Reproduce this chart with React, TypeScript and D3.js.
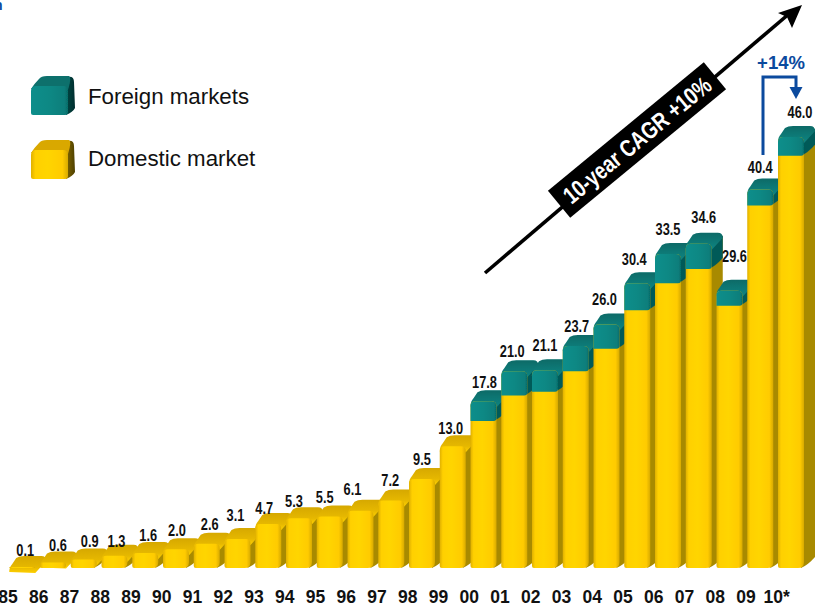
import React from "react";
import * as d3 from "d3";

const years = ["85","86","87","88","89","90","91","92","93","94","95","96","97","98","99","00","01","02","03","04","05","06","07","08","09","10*"];
const totals = [0.1,0.6,0.9,1.3,1.6,2.0,2.6,3.1,4.7,5.3,5.5,6.1,7.2,9.5,13.0,17.8,21.0,21.1,23.7,26.0,30.4,33.5,34.6,29.6,40.4,46.0];
const foreign = [0,0,0,0,0,0,0,0,0,0,0,0,0,0,0,2.1,2.6,2.3,2.7,2.6,2.9,3.1,2.7,1.6,1.7,2.0];
const labelNudgeX = [3,5,6,2,3,1,3,-2,-4,-5,-5,-8,-1,0,-2,1,-2,0,1,-2,-3,0,5,5,0,9];
const labelNudgeY = [-17,-17,-19,-15,-18,-19,-20,-24,-16,-17,-19,-22,-21,-20,-18,-19,-20,-25,-20,-25,-24,-25,-27,-35,-22,-25];

const W = 815, H = 608;
const x = d3.scaleLinear().domain([0, 25]).range([9.25, 778]);
const y = d3.scaleLinear().domain([0, 46]).range([568, 137]);
const barW = 26, dx = 11, dy = 11;
const BLUE = "#0b4a9e";

function frontPath(l: number, r: number, t: number, b: number, rt: number, rbl: number, rbr: number) {
  const h = b - t;
  const a = Math.min(rt, h / 2), c = Math.min(rbl, h / 2), e = Math.min(rbr, h / 2);
  const p = d3.path();
  p.moveTo(l, t + a);
  p.quadraticCurveTo(l, t, l + a, t);
  p.lineTo(r - a, t);
  p.quadraticCurveTo(r, t, r, t + a);
  p.lineTo(r, b - e);
  p.quadraticCurveTo(r, b, r - e, b);
  p.lineTo(l + c, b);
  p.quadraticCurveTo(l, b, l, b - c);
  p.closePath();
  return p.toString();
}
function topPath(l: number, r: number, t: number) {
  const p = d3.path();
  p.moveTo(l, t + 5);
  p.quadraticCurveTo(l, t, l + 3, t - 3);
  p.lineTo(l + dx - 4, t - dy + 2);
  p.quadraticCurveTo(l + dx - 1, t - dy, l + dx + 4, t - dy);
  p.lineTo(r + dx - 5, t - dy);
  p.quadraticCurveTo(r + dx, t - dy, r + dx, t - dy + 5);
  p.lineTo(r, t + 6);
  p.closePath();
  return p.toString();
}
function sidePath(r: number, t: number, b: number) {
  const p = d3.path();
  p.moveTo(r - 2, t + 1);
  p.lineTo(r + dx, t - dy + 3);
  p.lineTo(r + dx, b - dy);
  p.quadraticCurveTo(r + 4, b - 3, r - 3, b);
  p.closePath();
  return p.toString();
}

const Cube = ({ cy, tone }: { cy: number; tone: "t" | "y" }) => {
  const l = 31, r = 68, t = cy - 10, b = cy + 19;
  const sideC = tone === "t" ? "url(#legSideT)" : "url(#legSideY)";
  const topC = tone === "t" ? "#0a6f6c" : "#d9a800";
  return (
    <g>
      <path d={`M${r - 4},${t} L${r},${t - 9} Q${r + 6},${t - 10} ${r + 6},${t - 4} L${r + 7},${b - 7} Q${r + 5},${b - 3} ${r - 2},${b} Z`} fill={sideC} />
      <path d={`M${l},${t + 3} Q${l + 3},${t - 2} ${l + 8},${t - 7} Q${l + 10},${t - 10} ${l + 16},${t - 10} L${r + 1},${t - 10} Q${r + 4},${t - 9} ${r},${t + 4} Z`} fill={topC} />
      <path d={frontPath(l, r, t, b, 5, 2, 3)} fill={tone === "t" ? "url(#frontT)" : "url(#frontY)"} />
    </g>
  );
};

export default function App() {
  return (
    <svg width={W} height={H} viewBox={`0 0 ${W} ${H}`} style={{ position: "absolute", left: 0, top: 0, background: "#fff", fontFamily: "'Liberation Sans', Arial, sans-serif" }}>
      <defs>
        <linearGradient id="frontY" x1="0" x2="1" y1="0" y2="0">
          <stop offset="0" stopColor="#e0b000" />
          <stop offset="0.12" stopColor="#ffd000" />
          <stop offset="0.45" stopColor="#ffd500" />
          <stop offset="0.85" stopColor="#ffcb00" />
          <stop offset="1" stopColor="#d8aa00" />
        </linearGradient>
        <linearGradient id="frontT" x1="0" x2="1" y1="0" y2="0">
          <stop offset="0" stopColor="#0a8e8b" />
          <stop offset="0.5" stopColor="#0a8884" />
          <stop offset="0.9" stopColor="#087e7b" />
          <stop offset="1" stopColor="#066c69" />
        </linearGradient>
        <linearGradient id="topY" x1="0" x2="0" y1="0" y2="1">
          <stop offset="0" stopColor="#d6a800" />
          <stop offset="0.65" stopColor="#e6b800" />
          <stop offset="1" stopColor="#ffd000" />
        </linearGradient>
        <linearGradient id="topT" x1="0" x2="0" y1="0" y2="1">
          <stop offset="0" stopColor="#086a67" />
          <stop offset="1" stopColor="#0a8582" />
        </linearGradient>
        <linearGradient id="legSideT" x1="0" x2="1" y1="0" y2="0">
          <stop offset="0" stopColor="#064a48" />
          <stop offset="1" stopColor="#032f2e" />
        </linearGradient>
        <linearGradient id="legSideY" x1="0" x2="1" y1="0" y2="0">
          <stop offset="0" stopColor="#8a6f00" />
          <stop offset="1" stopColor="#4f4000" />
        </linearGradient>
        <filter id="soft" x="-5%" y="-5%" width="110%" height="110%">
          <feGaussianBlur stdDeviation="0.45" />
        </filter>
      </defs>

      <text x={-6} y={10} fill={BLUE} fontSize={14} fontWeight="bold">n</text>

      <g filter="url(#soft)">
        <Cube cy={96} tone="t" />
        <Cube cy={160} tone="y" />
      </g>
      <text x={88} y={104} fontSize={22.3} fill="#111">Foreign markets</text>
      <text x={88} y={166} fontSize={22.3} fill="#111">Domestic market</text>

      <g filter="url(#soft)">
        {totals.map((v, i) => {
          const l = x(i), r = l + barW, base = y(0), t = y(v);
          const f = foreign[i];
          const mid = y(v - f);
          return (
            <g key={years[i]}>
              <path d={sidePath(r, t, base)} fill="#a88a00" />
              {f > 0 && <path d={`M${r - 2},${t + 1} L${r + dx},${t - dy + 3} L${r + dx},${mid - dy} Q${r + 4},${mid - 3} ${r - 3},${mid} Z`} fill="#065a58" />}
              <path d={topPath(l, r, t)} fill={f > 0 ? "url(#topT)" : "url(#topY)"} />
              <path d={frontPath(l, r, t, base, 5, 2, 6)} fill="url(#frontY)" />
              {f > 0 && <path d={frontPath(l, r, t, mid, 5, 0, 3)} fill="url(#frontT)" />}
            </g>
          );
        })}
      </g>

      {totals.map((v, i) => (
        <text
          key={years[i]}
          transform={`translate(${x(i) + 13 + labelNudgeX[i]},${y(v) + labelNudgeY[i] + 6}) scale(0.8,1)`}
          textAnchor="middle"
          fontSize={16}
          fontWeight="bold"
          fill="#111"
        >
          {d3.format(".1f")(v)}
        </text>
      ))}

      {years.map((yr, i) => (
        <text key={yr} x={x(i) - 1.25} y={603} textAnchor="middle" fontSize={17.5} fontWeight="bold" fill="#111">
          {yr}
        </text>
      ))}

      <line x1={485} y1={273} x2={790} y2={13} stroke="#000" strokeWidth={3.6} />
      <path d="M802,5 L778,13 L787,17 L792,28 Z" fill="#000" />
      <g transform="translate(637,140) rotate(-39.5)">
        <rect x={-101} y={-17.5} width={202} height={35} fill="#000" />
        <text x={0} y={8.5} textAnchor="middle" fontSize={24} fontWeight="bold" fill="#fff" transform="scale(0.8,1)">10-year CAGR +10%</text>
      </g>

      <text x={781} y={69} textAnchor="middle" fontSize={18.5} fontWeight="bold" fill={BLUE}>+14%</text>
      <path d="M763,155 L763,77 L796,77 L796,90" fill="none" stroke={BLUE} strokeWidth={3} />
      <path d="M789.5,87 L802.5,87 L796,99 Z" fill={BLUE} />
    </svg>
  );
}
